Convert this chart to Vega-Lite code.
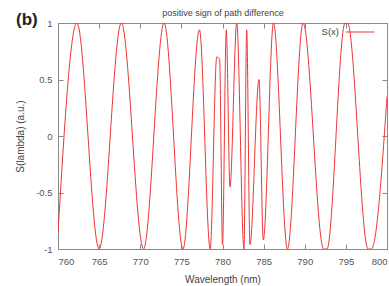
{
  "$schema": "https://vega.github.io/schema/vega-lite/v6.json",
  "width": 329,
  "height": 226,
  "autosize": {"type": "none"},
  "padding": {"left": 58, "top": 23, "right": 2, "bottom": 37},
  "background": "white",
  "title": {"text": "(b)", "anchor": "start", "frame": "group", "fontSize": 17, "fontWeight": "bold", "font": "Liberation Sans", "color": "#222", "dx": -42, "dy": 37, "baseline": "alphabetic"},
  "config": {
    "view": {"stroke": "#8a8a8a", "strokeWidth": 1},
    "axis": {"labelFont": "Liberation Sans", "titleFont": "Liberation Sans", "labelColor": "#555", "titleColor": "#444", "labelFontSize": 9.5, "titleFontSize": 10, "titleFontWeight": "normal", "domainColor": "#8a8a8a", "tickColor": "#8a8a8a", "grid": false, "tickSize": -5, "labelExpr": "'' + datum.value"}
  },
  "data": {"values": [
    {"w": 760.0, "s": -0.86, "series": "S(x)"},
    {"w": 762.3, "s": 1.0, "series": "S(x)"},
    {"w": 765.0, "s": -1.0, "series": "S(x)"},
    {"w": 767.7, "s": 1.0, "series": "S(x)"},
    {"w": 770.4, "s": -1.0, "series": "S(x)"},
    {"w": 772.9, "s": 1.0, "series": "S(x)"},
    {"w": 775.2, "s": -1.0, "series": "S(x)"},
    {"w": 777.2, "s": 0.94, "series": "S(x)"},
    {"w": 778.5, "s": -1.0, "series": "S(x)"},
    {"w": 779.3, "s": 0.70, "series": "S(x)"},
    {"w": 779.65, "s": 0.68, "series": "S(x)"},
    {"w": 780.0, "s": -0.96, "series": "S(x)"},
    {"w": 780.46, "s": 0.94, "series": "S(x)"},
    {"w": 780.91, "s": -0.45, "series": "S(x)"},
    {"w": 781.73, "s": 1.0, "series": "S(x)"},
    {"w": 782.61, "s": -1.0, "series": "S(x)"},
    {"w": 782.94, "s": 0.94, "series": "S(x)"},
    {"w": 783.34, "s": -0.96, "series": "S(x)"},
    {"w": 784.44, "s": 0.5, "series": "S(x)"},
    {"w": 784.96, "s": -0.92, "series": "S(x)"},
    {"w": 786.2, "s": 1.0, "series": "S(x)"},
    {"w": 787.9, "s": -1.0, "series": "S(x)"},
    {"w": 789.8, "s": 1.0, "series": "S(x)"},
    {"w": 792.3, "s": -1.0, "series": "S(x)"},
    {"w": 792.7, "s": -1.0, "series": "S(x)"},
    {"w": 794.9, "s": 1.0, "series": "S(x)"},
    {"w": 795.2, "s": 1.0, "series": "S(x)"},
    {"w": 797.7, "s": -1.0, "series": "S(x)"},
    {"w": 798.1, "s": -1.0, "series": "S(x)"},
    {"w": 800.0, "s": 0.35, "series": "S(x)"}
  ]},
  "layer": [
    {
      "mark": {"type": "line", "interpolate": "monotone", "strokeWidth": 1, "clip": true},
      "encoding": {
        "x": {"field": "w", "type": "quantitative", "scale": {"domain": [760, 800], "nice": false, "zero": false}, "axis": {"title": "Wavelength (nm)", "values": [760, 765, 770, 775, 780, 785, 790, 795, 800], "labelPadding": 12, "titlePadding": 9}},
        "y": {"field": "s", "type": "quantitative", "scale": {"domain": [-1, 1], "nice": false}, "axis": {"title": "S(lambda) (a.u.)", "values": [-1, -0.5, 0, 0.5, 1], "labelPadding": 11, "titlePadding": 10}},
        "color": {"field": "series", "type": "nominal", "scale": {"range": ["#ef3535"]}, "legend": {"title": null, "orient": "none", "legendX": 287, "legendY": -6, "symbolType": "stroke", "symbolSize": 800, "symbolStrokeWidth": 1, "labelAlign": "right", "labelOffset": -36, "labelFont": "Liberation Sans", "labelFontSize": 9.5, "labelColor": "#444", "padding": 0}}
      }
    },
    {
      "mark": {"type": "line", "opacity": 0},
      "encoding": {
        "x": {"field": "w", "type": "quantitative", "axis": {"orient": "top", "labels": false, "title": "positive sign of path difference", "titleFontSize": 9, "titleColor": "#444", "titlePadding": 5, "values": [760, 765, 770, 775, 780, 785, 790, 795, 800]}},
        "y": {"field": "s", "type": "quantitative", "axis": {"orient": "right", "labels": false, "title": null, "values": [-1, -0.5, 0, 0.5, 1]}}
      }
    }
  ],
  "resolve": {"axis": {"x": "independent", "y": "independent"}}
}
